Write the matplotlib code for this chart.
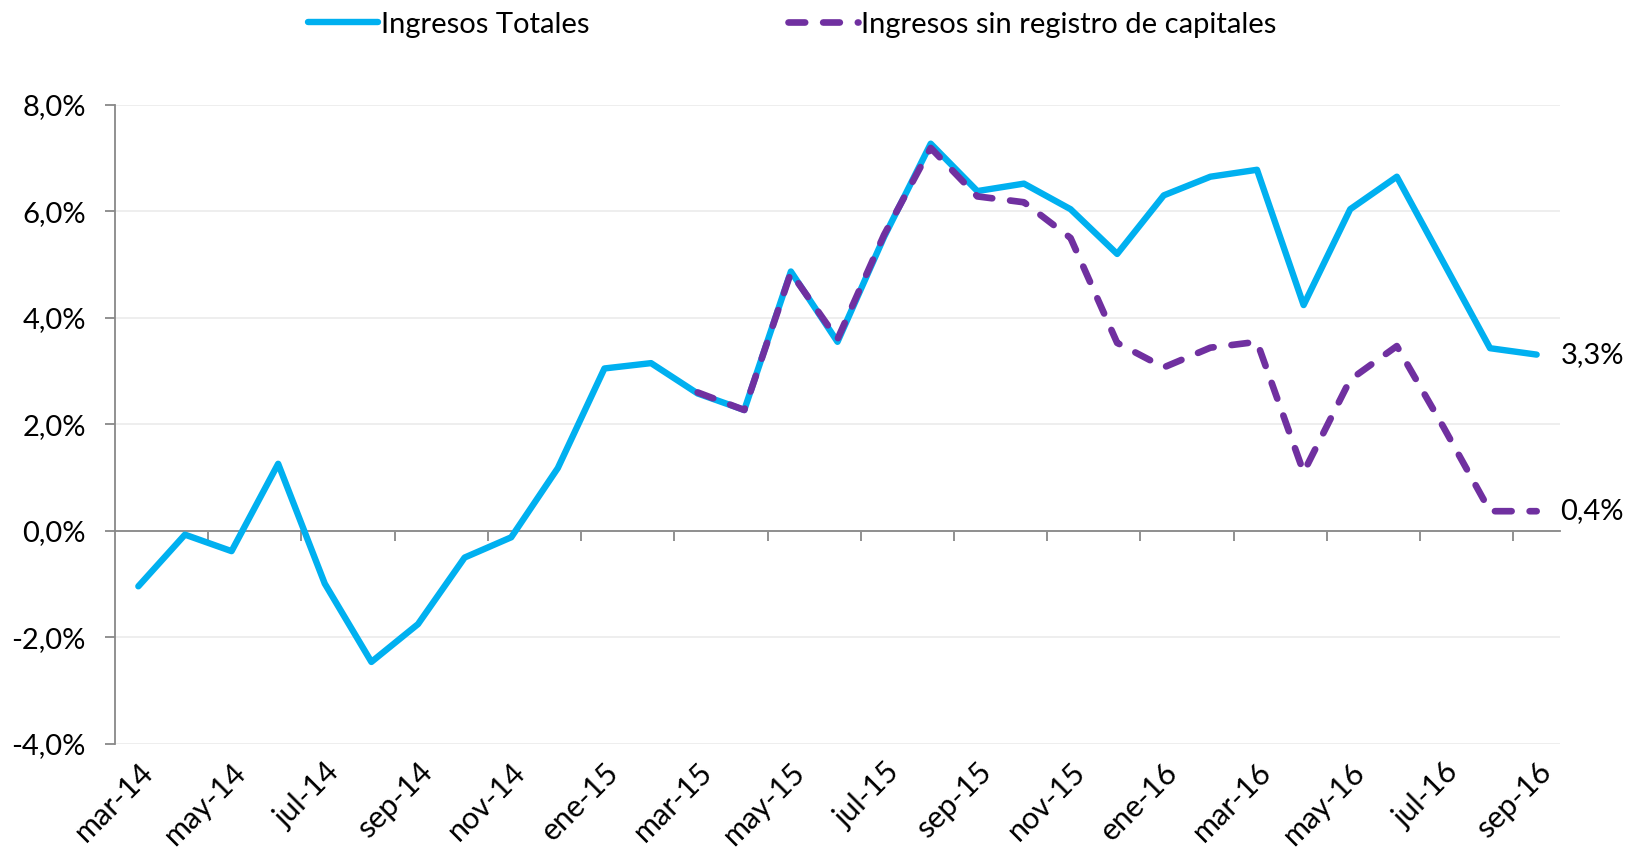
import numpy as np
from matplotlib import pyplot as plt
from matplotlib.ticker import FuncFormatter

meses = ['mar-14', 'abr-14', 'may-14', 'jun-14', 'jul-14', 'ago-14', 'sep-14', 'oct-14',
         'nov-14', 'dic-14', 'ene-15', 'feb-15', 'mar-15', 'abr-15', 'may-15', 'jun-15',
         'jul-15', 'ago-15', 'sep-15', 'oct-15', 'nov-15', 'dic-15', 'ene-16', 'feb-16',
         'mar-16', 'abr-16', 'may-16', 'jun-16', 'jul-16', 'ago-16', 'sep-16']

# variacion anual, en %
totales = [-1.04, -0.07, -0.38, 1.26, -0.99, -2.46, -1.75, -0.50, -0.12, 1.18,
           3.05, 3.15, 2.58, 2.27, 4.87, 3.55, 5.52, 7.27, 6.38, 6.52,
           6.04, 5.20, 6.30, 6.65, 6.78, 4.24, 6.04, 6.65, 5.04, 3.43, 3.31]

sin_registro = [np.nan] * 12 + [2.60, 2.27, 4.85, 3.60, 5.56, 7.19, 6.28, 6.17,
                                5.50, 3.53, 3.07, 3.44, 3.55, 1.10, 2.84, 3.47,
                                1.95, 0.37, 0.37]

plt.rcParams['font.family'] = ['Lato', 'DejaVu Sans']

fig = plt.figure(figsize=(16.27, 8.52), dpi=100)
ax = fig.add_axes([0.0707, 0.1268, 0.8881, 0.7502])

x = np.arange(len(meses))
azul = '#00B0F0'
morado = '#7030A0'

ax.plot(x, totales, color=azul, lw=4.6, solid_capstyle='round', solid_joinstyle='round',
        label='Ingresos Totales', zorder=3)
ax.plot(x, sin_registro, color=morado, lw=4.8, dashes=(2.5, 2.7), dash_capstyle='round',
        label='Ingresos sin registro de capitales', zorder=4)

def pct(v, pos=None):
    return ('%.1f%%' % v).replace('.', ',')

# etiquetas del ultimo dato
ax.annotate(pct(totales[-1]), (x[-1], totales[-1]), xytext=(17, 0),
            textcoords='offset points', va='center', ha='left', fontsize=21)
ax.annotate(pct(sin_registro[-1]), (x[-1], sin_registro[-1]), xytext=(17, 0),
            textcoords='offset points', va='center', ha='left', fontsize=21)

ax.set_xlim(-0.5, 30.5)
ax.set_ylim(-4, 8)
ax.set_yticks(np.arange(-4, 8.1, 2))
ax.yaxis.set_major_formatter(FuncFormatter(pct))
ax.grid(axis='y', color='#EDEDED', lw=1.3, zorder=0)
ax.set_axisbelow(True)

for s in ['top', 'right']:
    ax.spines[s].set_visible(False)
ax.spines['left'].set_color('#888888')
ax.spines['left'].set_linewidth(1.3)
ax.spines['bottom'].set_position(('data', 0))
ax.spines['bottom'].set_color('#888888')
ax.spines['bottom'].set_linewidth(1.3)

ax.tick_params(axis='y', length=7, width=1.3, color='#888888', pad=14, labelsize=21)
# marcas del eje x sobre la linea de cero, entre categorias
ax.set_xticks(np.arange(1.5, 30, 2))
ax.tick_params(axis='x', length=7, width=1.3, color='#888888', labelbottom=False)

sec = ax.secondary_xaxis('bottom')
sec.set_xticks(x[::2])
sec.set_xticklabels(meses[::2], rotation=45, ha='right', rotation_mode='anchor', fontsize=22)
sec.tick_params(length=0, pad=10)
sec.spines['bottom'].set_visible(False)

fig.legend(loc='center', bbox_to_anchor=(0.487, 0.971), ncol=2, frameon=False,
           fontsize=21, handlelength=2.4, handletextpad=0.1, columnspacing=6.8)

fig.savefig('out.png', dpi=100)
